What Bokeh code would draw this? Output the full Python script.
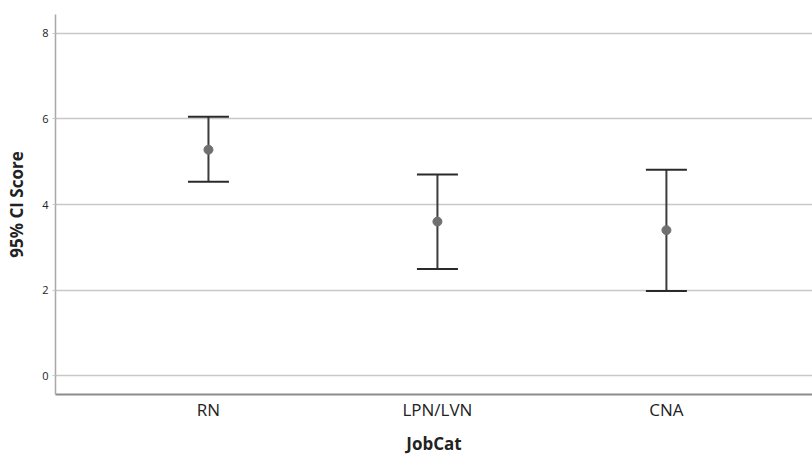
from bokeh.plotting import figure
from bokeh.models import ColumnDataSource, Whisker, TeeHead, Range1d, FixedTicker
from bokeh.embed import file_html
from bokeh.resources import INLINE

categories = ["RN", "LPN/LVN", "CNA"]
means = [5.28, 3.60, 3.40]
lower = [4.53, 2.49, 1.98]
upper = [6.05, 4.70, 4.81]
y_ticks = [0, 2, 4, 6, 8]

xs = list(range(len(categories)))
src = ColumnDataSource(dict(x=xs, mean=means, lower=lower, upper=upper))

p = figure(width=812, height=457, output_backend="svg", toolbar_location=None,
           x_range=Range1d(-0.668, 2.638), y_range=Range1d(-0.44, 8.44),
           min_border_left=55, min_border_right=0, min_border_top=14, min_border_bottom=62)
p.outline_line_color = None
p.background_fill_color = "white"
p.border_fill_color = "white"

grey = "#3c3c3c"
w = Whisker(source=src, base="x", lower="lower", upper="upper",
            line_color=grey, line_width=2,
            upper_head=TeeHead(size=41, line_color="#2a2a2a", line_width=2),
            lower_head=TeeHead(size=41, line_color="#2a2a2a", line_width=2))
p.add_layout(w)
p.scatter("x", "mean", source=src, size=9, color="#707070")

p.xaxis.ticker = FixedTicker(ticks=xs)
p.xaxis.major_label_overrides = {i: c for i, c in zip(xs, categories)}
p.xaxis.major_label_text_font = "Open Sans"
p.xaxis.major_label_text_font_size = "17px"
p.xaxis.major_label_text_color = "#222222"
p.xaxis.major_tick_line_color = None
p.xaxis.major_tick_out = 0
p.xaxis.major_tick_in = 0
p.xaxis.minor_tick_line_color = None
p.xaxis.axis_line_color = "#8c8c8c"
p.xaxis.axis_line_width = 2
p.xaxis.major_label_standoff = 3
p.xaxis.axis_label = "JobCat"
p.xaxis.axis_label_text_font = "Open Sans"
p.xaxis.axis_label_text_font_size = "17px"
p.xaxis.axis_label_text_font_style = "bold"
p.xaxis.axis_label_text_color = "#222222"
p.xaxis.axis_label_standoff = 8

p.yaxis.ticker = FixedTicker(ticks=y_ticks)
p.yaxis.major_label_text_font = "Open Sans"
p.yaxis.major_label_text_font_size = "11px"
p.yaxis.major_label_text_color = "#222222"
p.yaxis.major_tick_line_color = "#c8c8c8"
p.yaxis.major_tick_out = 3
p.yaxis.major_tick_in = 0
p.yaxis.minor_tick_line_color = None
p.yaxis.axis_line_color = "#a8a8a8"
p.yaxis.axis_line_width = 1.5
p.yaxis.major_label_standoff = 4
p.yaxis.axis_label = "95% CI Score"
p.yaxis.axis_label_text_font = "Open Sans"
p.yaxis.axis_label_text_font_size = "17px"
p.yaxis.axis_label_text_font_style = "bold"
p.yaxis.axis_label_text_color = "#222222"
p.yaxis.axis_label_standoff = 11

p.xgrid.grid_line_color = None
p.ygrid.grid_line_color = "#c8c8c8"
p.ygrid.grid_line_width = 1.5

open("out.html", "w").write(file_html(p, INLINE))
